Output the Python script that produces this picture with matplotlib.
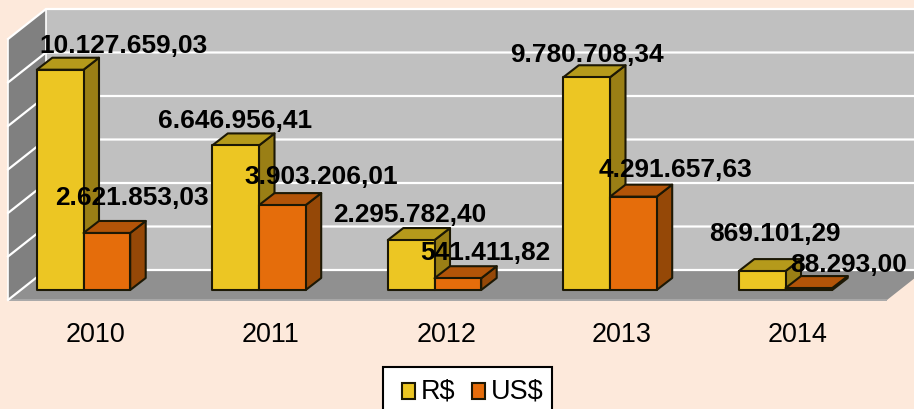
import matplotlib
matplotlib.use("Agg")
import matplotlib.pyplot as plt
from matplotlib.patches import Polygon, Rectangle, Patch

years = ["2010", "2011", "2012", "2013", "2014"]
brl = [10127659.03, 6646956.41, 2295782.40, 9780708.34, 869101.29]
usd = [2621853.03, 3903206.01, 541411.82, 4291657.63, 88293.00]
brl_labels = ["10.127.659,03", "6.646.956,41", "2.295.782,40", "9.780.708,34", "869.101,29"]
usd_labels = ["2.621.853,03", "3.903.206,01", "541.411,82", "4.291.657,63", "88.293,00"]
y_ticks = [0, 2e6, 4e6, 6e6, 8e6, 10e6, 12e6]

# layout (pixels)
W, H = 914, 410
PX_X = 175.5            # px per category
PX_Y = 261 / 12e6       # px per value
X0 = 83.5               # px of the first category
Y0 = 291                # px of value zero at the bars' front
BAR_W = 46.7 / PX_X
BG = "#FDE9DB"
EDGE = "#1C1805"
FONT = "Liberation Sans"
brl_off = [(63.5, 17.7), (-0.5, 18.4), (-1.5, 19), (0, 16.3), (13, 31)]
usd_off = [(25, 29), (38.5, 22), (27.5, 19), (42, 21), (40, 17)]

plt.rcParams["font.family"] = FONT
fig = plt.figure(figsize=(W / 100, H / 100), dpi=100, facecolor=BG)
ax = fig.add_axes([0, 0, 1, 1])
ax.set_xlim(-X0 / PX_X, (W - X0) / PX_X)
ax.set_ylim(-(H - Y0) / PX_Y, Y0 / PX_Y)
ax.axis("off")


def ox(px):
    return px / PX_X


def oy(px):
    return px / PX_Y


top = y_ticks[-1]
xl = -X0 / PX_X + ox(8)
xr = -X0 / PX_X + ox(887)
fd, fu = ox(38), oy(10)   # front plane sits 10 px below the bars' zero
bk = oy(20)               # back plane sits 20 px above the bars' zero
fl = -fu
# back wall
ax.add_patch(Polygon([(xl + fd, bk), (xl + fd, top + bk), (xr + fd, top + bk), (xr + fd, bk)],
                     fc="#C0C0C0", ec="none", zorder=1))
# side wall
ax.add_patch(Polygon([(xl, fl), (xl, top + fl), (xl + fd, top + bk), (xl + fd, bk)],
                     fc="#808080", ec="none", zorder=1))
# floor
ax.add_patch(Polygon([(xl, fl), (xl + fd, bk), (xr + fd, bk), (xr, fl)],
                     fc="#909090", ec="none", zorder=1))
ax.plot([xl, xr], [fl, fl], color="#A8A8A8", lw=1.4, zorder=1.5, solid_capstyle="butt")
for t in y_ticks:
    ax.plot([xl, xl + fd, xr + fd], [t + fl, t + bk, t + bk], color="white", lw=1.6,
            zorder=2, solid_joinstyle="miter")
ax.plot([xl, xl], [fl, top + fl], color="white", lw=1.2, zorder=2)
ax.plot([xl + fd, xl + fd], [bk, top + bk], color="white", lw=1.2, zorder=2)


def bar3d(x0, v, front, cap, side, z):
    x1 = x0 + BAR_W
    dx, dy = ox(15.5), oy(12)
    kw = dict(ec=EDGE, lw=1.5, joinstyle="round", zorder=z)
    ax.add_patch(Polygon([(x1, 0), (x1 + dx, dy), (x1 + dx, v + dy), (x1, v)], fc=side, **kw))
    ax.add_patch(Polygon([(x0, v), (x0 + dx, v + dy), (x1 + dx, v + dy), (x1, v)], fc=cap, **kw))
    ax.add_patch(Polygon([(x0, 0), (x0, v), (x1, v), (x1, 0)], fc=front, **kw))


YEL = ("#ECC623", "#B59A1B", "#9A7F15")
ORG = ("#E56D0B", "#B25408", "#954807")
for i, (a, b) in enumerate(zip(brl, usd)):
    bar3d(i - BAR_W, a, *YEL, 3 + i * 0.1)
    bar3d(i, b, *ORG, 3.05 + i * 0.1)

fs = 26.2 * 0.72
tick_fs = 27 * 0.72
for i in range(len(years)):
    for v, lab, off, xc in ((brl[i], brl_labels[i], brl_off[i], i - BAR_W / 2),
                            (usd[i], usd_labels[i], usd_off[i], i + BAR_W / 2)):
        ax.annotate(lab, xy=(xc, v), xytext=(off[0] * 0.72, off[1] * 0.72),
                    textcoords="offset points", ha="center", va="baseline",
                    fontsize=fs, fontweight="bold", color="black", zorder=10)
    ax.annotate(years[i], xy=(i, 0), xytext=(12 * 0.72, -(342 - Y0) * 0.72), textcoords="offset points",
                ha="center", va="baseline", fontsize=tick_fs, color="black", zorder=10)

# legend box runs past the bottom edge of the picture
ax.add_patch(Rectangle((383 / W, -0.05), (552 - 383) / W, 0.05 + 1 - 368 / H, transform=fig.transFigure,
                       fc="white", ec="black", lw=1.5, zorder=11))
handles = [Patch(fc=YEL[0], ec=EDGE, lw=1.5, label="R$"), Patch(fc=ORG[0], ec=EDGE, lw=1.5, label="US$")]
leg = ax.legend(handles=handles, ncol=2, loc="upper left",
                bbox_to_anchor=(401.5 / W, 1 - 379 / H), bbox_transform=fig.transFigure,
                fontsize=tick_fs, frameon=False, borderaxespad=0,
                handlelength=0.5, handleheight=0.5, handletextpad=0.22, columnspacing=0.6,
                borderpad=0, labelspacing=0)
leg.set_zorder(12)
for p in leg.get_patches():
    p.set_y(p.get_y() - 2.0)
fig.savefig("out.png", dpi=100, facecolor=BG)
